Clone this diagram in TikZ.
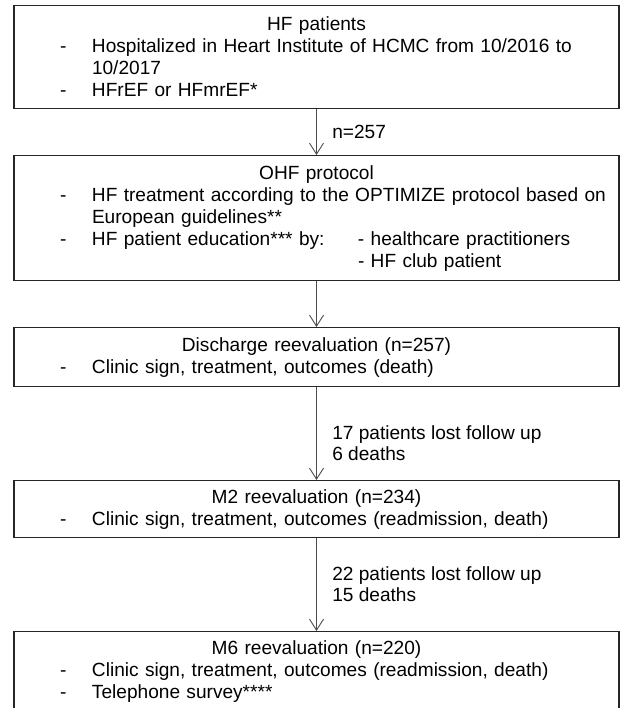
\documentclass[tikz,border=0pt]{standalone}
\usepackage{fontspec}
\setmainfont{Liberation Sans}
\usetikzlibrary{arrows.meta}

\newcommand{\flowdash}{\hspace*{46pt}\makebox[32pt][l]{-}}
\newcommand{\flowcont}{\hspace*{78pt}}

\begin{document}
\begin{tikzpicture}[x=1pt, y=1pt,
    flowbox/.style={draw=black!85, line width=1.2pt, text width=605pt,
        inner xsep=0pt, inner ysep=0pt, anchor=north,
        font=\fontsize{19.1}{22}\selectfont},
    flowarrow/.style={-{Straight Barb[length=11pt,width=14pt]},
        draw=black!70, line width=0.9pt},
    flowlabel/.style={right=12pt, align=left,
        font=\fontsize{19.1}{21}\selectfont}]
            \useasboundingbox (0,0) rectangle (620,708);

            % boxes, top to bottom
            \draw (316.5,703) node[flowbox, minimum height=103pt] (hf) {%
                {\centering HF patients\par}\raggedright
                \flowdash Hospitalized in Heart Institute of HCMC from 10/2016 to\newline
                \flowcont 10/2017\newline
                \flowdash HFrEF or HFmrEF*};
            \draw (316.5,553) node[flowbox, minimum height=125pt] (ohf) {%
                {\centering OHF protocol\par}\raggedright
                \flowdash HF treatment according to the OPTIMIZE protocol based on\newline
                \flowcont European guidelines**\newline
                \flowdash \makebox[266pt][l]{HF patient education*** by:}- healthcare practitioners\newline
                \flowcont \hspace*{266pt}- HF club patient};
            \draw (316.5,381) node[flowbox, minimum height=59pt] (dis) {%
                {\centering Discharge reevaluation (n=257)\par}\raggedright
                \flowdash Clinic sign, treatment, outcomes (death)};
            \draw (316.5,228) node[flowbox, minimum height=57pt] (mtwo) {%
                {\centering M2 reevaluation (n=234)\par}\raggedright
                \flowdash Clinic sign, treatment, outcomes (readmission, death)};
            \draw (316.5,77) node[flowbox, minimum height=79pt] (msix) {%
                {\centering M6 reevaluation (n=220)\par}\raggedright
                \flowdash Clinic sign, treatment, outcomes (readmission, death)\newline
                \flowdash Telephone survey****};

            % arrows with counts
            \draw[flowarrow] (hf) -- (ohf) node[flowlabel, pos=0.5] (nhf) {n=257};
            \draw[flowarrow] (ohf) -- (dis);
            \draw[flowarrow] (dis) -- (mtwo) node[flowlabel, pos=0.6] (ndis) {17 patients lost follow up\\6 deaths};
            \draw[flowarrow] (mtwo) -- (msix) node[flowlabel, pos=0.5] (nmtwo) {22 patients lost follow up\\15 deaths};

\end{tikzpicture}
\end{document}
